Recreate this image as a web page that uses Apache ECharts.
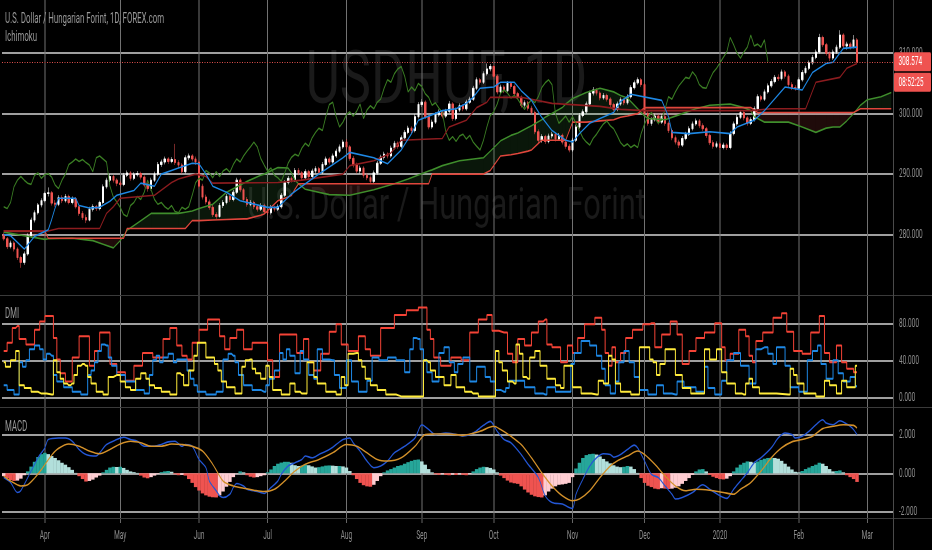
<!DOCTYPE html>
<html>
<head>
<meta charset="utf-8">
<title>USDHUF 1D</title>
<script src="https://cdn.jsdelivr.net/npm/echarts@6/dist/echarts.min.js"></script>
<style>
  html, body { margin: 0; padding: 0; background: #000; width: 932px; height: 550px; overflow: hidden; }
  /* drawn twice as wide, then squeezed, like the original screenshot */
  #chart { width: 1864px; height: 550px; transform: scaleX(0.5); transform-origin: 0 0; }
</style>
</head>
<body>
<div id="chart"></div>
<script>
// ---- bars (weekdays from 14 Mar 2019), prices ----
const opens = [
  280.0, 279.3, 278.0, 278.6, 277.6, 276.2, 275.4, 276.8, 279.8, 282.4,
  283.6, 284.9, 285.6, 286.8, 286.9, 285.2, 285.0, 286.1, 285.6, 286.3,
  285.3, 285.9, 284.6, 283.5, 282.8, 282.4, 284.2, 284.6, 284.3, 285.3,
  287.9, 289.0, 289.6, 289.0, 288.5, 288.3, 289.8, 290.2, 289.3, 289.9,
  290.1, 289.5, 288.2, 287.6, 289.0, 290.0, 291.6, 292.0, 292.5, 292.1,
  292.4, 291.9, 291.5, 290.4, 292.7, 293.0, 292.5, 292.0, 288.0, 286.2,
  285.4, 284.5, 283.3, 283.0, 284.8, 285.3, 286.3, 285.8, 287.0, 289.0,
  287.4, 285.8, 285.0, 285.3, 284.6, 284.2, 284.8, 283.8, 283.6, 284.5,
  284.2, 284.6, 286.5, 288.6, 289.3, 289.0, 290.6, 290.2, 289.4, 290.4,
  289.6, 290.5, 290.9, 290.3, 291.6, 292.5, 292.0, 293.0, 293.8, 294.5,
  295.3, 294.5, 292.6, 291.5, 290.5, 291.0, 289.8, 289.4, 288.8, 290.2,
  291.8, 292.8, 293.3, 293.0, 294.3, 295.1, 294.6, 296.0, 296.9, 297.6,
  297.2, 299.5, 301.5, 301.9, 299.5, 297.8, 298.6, 299.8, 300.3, 299.6,
  300.4, 301.6, 299.2, 300.6, 301.3, 300.8, 301.9, 302.4, 304.2, 305.6,
  305.2, 306.6, 307.4, 307.8, 306.2, 303.6, 304.4, 303.8, 305.0, 304.5,
  303.3, 302.7, 301.4, 301.8, 300.9, 300.2, 297.0, 295.6, 296.2, 295.4,
  296.3, 296.6, 295.8, 296.4, 295.3, 294.6, 294.0, 295.6, 297.8, 299.7,
  300.3, 301.6, 303.4, 303.9, 303.4, 302.6, 303.0, 302.4, 301.5, 300.7,
  301.6, 302.3, 301.8, 302.8, 304.3, 305.1, 305.6, 304.8, 300.0, 298.4,
  299.0, 299.6, 298.6, 299.5, 298.4, 297.2, 296.0, 295.3, 294.8, 295.9,
  296.6, 297.5, 298.3, 298.8, 298.0, 297.5, 296.4, 295.2, 294.6, 295.0,
  294.4, 294.8, 294.4, 296.7, 298.3, 299.4, 300.2, 299.3, 298.4, 299.0,
  300.8, 302.8, 302.4, 303.6, 304.6, 305.3, 306.0, 305.8, 306.9, 306.2,
  304.8, 304.3, 304.2, 305.6, 306.8, 307.5, 308.4, 309.3, 310.2, 312.6,
  311.4, 310.0, 309.2, 310.2, 311.0, 313.0, 311.2, 311.5, 311.0, 312.2
];
const closes = [
  279.3, 278.0, 278.6, 277.6, 276.2, 275.4, 276.8, 279.8, 282.4, 283.6,
  284.9, 285.6, 286.8, 286.9, 285.2, 285.0, 286.1, 285.6, 286.3, 285.3,
  285.9, 284.6, 283.5, 282.8, 282.4, 284.2, 284.6, 284.3, 285.3, 287.9,
  289.0, 289.6, 289.0, 288.5, 288.3, 289.8, 290.2, 289.3, 289.9, 290.1,
  289.5, 288.2, 287.6, 289.0, 290.0, 291.6, 292.0, 292.5, 292.1, 292.4,
  291.9, 291.5, 290.4, 292.7, 293.0, 292.5, 292.0, 288.0, 286.2, 285.4,
  284.5, 283.3, 283.0, 284.8, 285.3, 286.3, 285.8, 287.0, 289.0, 287.4,
  285.8, 285.0, 285.3, 284.6, 284.2, 284.8, 283.8, 283.6, 284.5, 284.2,
  284.6, 286.5, 288.6, 289.3, 289.0, 290.6, 290.2, 289.4, 290.4, 289.6,
  290.5, 290.9, 290.3, 291.6, 292.5, 292.0, 293.0, 293.8, 294.5, 295.3,
  294.5, 292.6, 291.5, 290.5, 291.0, 289.8, 289.4, 288.8, 290.2, 291.8,
  292.8, 293.3, 293.0, 294.3, 295.1, 294.6, 296.0, 296.9, 297.6, 297.2,
  299.5, 301.5, 301.9, 299.5, 297.8, 298.6, 299.8, 300.3, 299.6, 300.4,
  301.6, 299.2, 300.6, 301.3, 300.8, 301.9, 302.4, 304.2, 305.6, 305.2,
  306.6, 307.4, 307.8, 306.2, 303.6, 304.4, 303.8, 305.0, 304.5, 303.3,
  302.7, 301.4, 301.8, 300.9, 300.2, 297.0, 295.6, 296.2, 295.4, 296.3,
  296.6, 295.8, 296.4, 295.3, 294.6, 294.0, 295.6, 297.8, 299.7, 300.3,
  301.6, 303.4, 303.9, 303.4, 302.6, 303.0, 302.4, 301.5, 300.7, 301.6,
  302.3, 301.8, 302.8, 304.3, 305.1, 305.6, 304.8, 300.0, 298.4, 299.0,
  299.6, 298.6, 299.5, 298.4, 297.2, 296.0, 295.3, 294.8, 295.9, 296.6,
  297.5, 298.3, 298.8, 298.0, 297.5, 296.4, 295.2, 294.6, 295.0, 294.4,
  294.8, 294.4, 296.7, 298.3, 299.4, 300.2, 299.3, 298.4, 299.0, 300.8,
  302.8, 302.4, 303.6, 304.6, 305.3, 306.0, 305.8, 306.9, 306.2, 304.8,
  304.3, 304.2, 305.6, 306.8, 307.5, 308.4, 309.3, 310.2, 312.6, 311.4,
  310.0, 309.2, 310.2, 311.0, 313.0, 311.2, 311.5, 311.0, 312.2, 308.574
];
const highs = [
  280.4, 279.6, 279.0, 278.9, 277.9, 276.5, 277.2, 280.2, 282.8, 284.0,
  285.2, 286.0, 287.1, 287.8, 287.2, 285.7, 286.5, 286.5, 286.7, 286.6,
  286.3, 286.2, 284.9, 283.9, 283.3, 284.6, 285.0, 284.9, 285.6, 288.3,
  289.4, 290.0, 289.9, 289.3, 288.9, 290.2, 290.6, 290.5, 290.3, 290.5,
  290.4, 289.8, 288.6, 289.4, 290.4, 292.0, 292.4, 292.9, 292.8, 292.8,
  295.0, 292.3, 291.8, 293.1, 293.4, 293.3, 292.9, 292.3, 288.4, 286.6,
  285.8, 284.9, 283.7, 285.2, 285.7, 286.7, 286.6, 287.4, 289.4, 289.3,
  287.7, 286.2, 285.7, 285.6, 285.0, 285.2, 285.1, 284.2, 284.9, 284.8,
  285.0, 286.9, 289.0, 289.7, 289.6, 291.0, 291.0, 290.5, 290.8, 290.7,
  290.9, 291.3, 291.2, 292.0, 292.9, 292.8, 293.4, 294.2, 294.9, 295.7,
  295.8, 294.8, 293.0, 291.9, 291.4, 291.3, 290.2, 289.8, 290.6, 292.2,
  293.2, 293.7, 293.6, 294.7, 295.5, 295.4, 296.4, 297.3, 298.0, 297.9,
  299.9, 301.9, 302.4, 302.2, 299.8, 299.0, 300.2, 300.7, 300.6, 300.8,
  302.1, 301.9, 301.0, 301.7, 301.6, 302.3, 302.8, 304.6, 306.0, 305.9,
  307.0, 308.3, 308.2, 308.1, 306.5, 304.8, 304.7, 305.4, 305.3, 304.8,
  303.6, 303.0, 302.2, 302.1, 301.3, 300.5, 297.4, 296.6, 296.5, 296.7,
  297.0, 296.9, 296.8, 296.7, 295.6, 295.0, 296.0, 298.2, 300.1, 300.7,
  302.0, 303.8, 304.4, 304.2, 303.7, 303.4, 303.3, 302.7, 301.8, 302.0,
  302.7, 302.6, 303.2, 304.7, 305.5, 306.0, 305.9, 305.1, 300.4, 299.4,
  300.0, 299.9, 299.9, 299.8, 298.7, 297.5, 296.4, 295.7, 296.3, 297.0,
  297.9, 298.7, 299.2, 299.1, 298.4, 297.8, 296.7, 295.6, 295.4, 295.3,
  295.2, 295.1, 297.1, 298.7, 299.8, 300.6, 300.5, 299.6, 299.4, 301.2,
  303.2, 303.1, 304.0, 305.0, 305.7, 306.4, 306.5, 307.3, 307.2, 306.5,
  305.2, 304.7, 306.0, 307.2, 307.9, 308.8, 309.7, 310.6, 313.2, 312.9,
  311.7, 310.3, 310.6, 311.4, 313.8, 313.3, 311.9, 311.8, 313.0, 312.5
];
const lows = [
  279.0, 277.6, 277.7, 277.2, 275.8, 274.5, 275.0, 276.5, 279.5, 282.0,
  283.3, 284.5, 285.3, 286.3, 284.8, 284.6, 284.7, 285.2, 285.3, 285.0,
  285.0, 284.3, 283.1, 282.4, 281.9, 282.2, 283.8, 283.9, 284.0, 285.0,
  287.6, 288.7, 288.6, 288.0, 287.9, 288.0, 289.5, 288.9, 289.0, 289.6,
  289.1, 287.8, 287.1, 287.3, 288.7, 289.7, 291.2, 291.6, 291.7, 291.8,
  291.5, 291.0, 290.0, 290.1, 292.3, 292.1, 291.5, 287.6, 285.8, 285.0,
  284.1, 282.9, 282.6, 282.8, 284.4, 285.0, 285.4, 285.5, 286.7, 287.0,
  285.4, 284.6, 284.7, 284.2, 283.8, 283.9, 283.4, 283.2, 283.3, 283.8,
  283.9, 284.3, 286.2, 288.3, 288.6, 288.7, 289.8, 289.0, 289.1, 289.2,
  289.3, 290.1, 289.9, 290.0, 291.3, 291.6, 291.7, 292.7, 293.5, 294.2,
  294.1, 292.2, 291.1, 290.1, 290.1, 289.4, 289.0, 288.4, 288.5, 289.9,
  291.5, 292.4, 292.6, 292.7, 294.0, 294.2, 294.3, 295.7, 296.6, 296.8,
  296.9, 299.2, 301.1, 299.1, 297.4, 297.5, 298.3, 299.5, 299.2, 299.3,
  300.1, 298.8, 298.9, 300.3, 300.4, 300.5, 301.6, 302.1, 303.9, 304.8,
  304.9, 306.3, 307.0, 305.8, 303.2, 303.3, 303.4, 303.5, 304.1, 302.9,
  302.3, 301.0, 301.0, 300.5, 299.8, 296.6, 295.2, 295.2, 295.0, 295.1,
  295.9, 295.4, 295.5, 294.9, 294.2, 293.6, 293.7, 295.3, 297.5, 299.4,
  300.0, 301.3, 303.0, 303.0, 302.2, 302.3, 302.0, 301.1, 300.3, 300.4,
  301.3, 301.4, 301.5, 302.5, 304.0, 304.8, 304.4, 299.6, 298.0, 298.0,
  298.7, 298.2, 298.3, 298.0, 296.8, 295.6, 294.9, 294.3, 294.5, 295.6,
  296.3, 297.2, 298.0, 297.6, 297.1, 296.0, 294.8, 294.2, 294.3, 294.0,
  294.1, 294.0, 294.1, 296.4, 298.0, 299.1, 298.9, 298.0, 298.1, 298.7,
  300.5, 302.0, 302.1, 303.3, 304.3, 305.0, 305.4, 305.5, 305.8, 304.4,
  303.9, 303.8, 303.9, 305.3, 306.5, 307.2, 308.1, 309.0, 309.9, 311.0,
  309.6, 308.7, 308.9, 309.9, 310.7, 310.8, 310.6, 310.6, 310.8, 308.3
];

// ---- Ichimoku lines, [bar, value] read where the line turns ----
const tenkan = [
  [0,280.0],[2,279.8],[6,277.6],[9,279.7],[13,280.8],[14,282.5],[15,284.4],[16,286.0],[21,286.0],[22,284.8],
  [25,284.4],[28,284.5],[31,285.5],[33,286.5],[38,287.3],[40,288.5],[44,288.0],[46,290.0],[51,291.0],[55,291.8],
  [57,291.7],[59,290.0],[61,288.0],[65,287.0],[69,285.6],[77,284.5],[80,284.5],[84,286.7],[87,288.0],[92,290.0],
  [99,292.7],[101,293.6],[108,292.7],[112,291.7],[116,294.0],[119,296.7],[121,298.9],[128,300.5],[132,300.8],[135,301.7],
  [137,302.7],[139,304.2],[143,304.4],[145,305.2],[149,305.2],[151,303.8],[154,302.2],[157,299.4],[160,297.2],[164,295.6],
  [166,295.3],[168,296.7],[171,298.4],[174,299.2],[178,300.2],[180,302.0],[183,303.2],[192,302.2],[194,299.5],[195,296.9],
  [200,296.7],[206,297.0],[212,296.7],[214,297.8],[219,298.9],[222,300.5],[228,304.4],[233,303.9],[236,306.8],[240,308.3],
  [242,308.5],[245,310.8],[249,311.0]
];
const kijun = [
  [0,280.6],[13,280.6],[16,281.0],[28,281.0],[30,283.5],[32,284.6],[34,286.0],[44,286.5],[49,288.6],[51,289.2],
  [56,290.0],[59,289.6],[61,288.5],[80,288.6],[87,289.0],[99,290.0],[101,291.4],[108,292.2],[113,293.5],[116,295.6],
  [128,295.9],[130,297.8],[135,298.9],[138,301.0],[141,301.9],[142,302.7],[151,302.7],[160,301.7],[174,301.2],[180,300.7],
  [187,300.5],[218,300.5],[224,300.8],[234,300.8],[237,305.2],[244,306.0],[246,307.5],[249,308.3]
];
// leading spans read at the same bars so the cloud can be filled between them
const cloudBars = [
  0, 6, 12, 13, 20, 26, 29, 32, 34, 35,
  36, 40, 43, 51, 53, 55, 57, 61, 65, 70,
  71, 75, 76, 80, 83, 84, 85, 86, 88, 95,
  101, 108, 114, 118, 124, 125, 128, 133, 140, 142,
  145, 148, 150, 153, 154, 157, 158, 163, 164, 166,
  170, 174, 178, 180, 182, 185, 187, 188, 193, 197,
  202, 206, 212, 216, 218, 219, 220, 222, 229, 233,
  237, 240, 242, 244, 246, 248, 250, 252, 256, 259
];
const spanA = [
  280.4, 279.8, 279.2, 279.3, 279.4, 279.0, 278.4, 277.8, 279.0, 279.8,
  280.7, 282.3, 283.5, 283.5, 283.7, 283.9, 284.3, 285.0, 287.0, 288.5,
  288.8, 289.8, 290.0, 291.1, 291.0, 290.2, 289.0, 288.4, 287.5, 286.6,
  286.5, 287.4, 288.4, 289.2, 290.5, 290.7, 291.4, 292.2, 292.7, 293.8,
  295.5, 296.4, 296.8, 297.7, 298.0, 299.0, 299.4, 301.0, 301.6, 302.5,
  303.5, 304.2, 303.6, 303.0, 302.6, 300.8, 299.6, 299.2, 299.0, 299.8,
  300.8, 301.4, 301.6, 301.0, 300.5, 299.5, 299.2, 298.6, 298.6, 297.8,
  296.9, 297.6, 297.8, 297.8, 298.8, 300.0, 301.4, 302.3, 302.8, 303.5
];
const spanB = [
  280.6, 280.6, 280.6, 279.4, 279.4, 279.4, 279.4, 279.4, 279.4, 279.4,
  281.0, 281.0, 281.0, 281.0, 281.0, 282.3, 282.3, 282.4, 282.5, 282.6,
  282.6, 283.2, 283.4, 285.6, 286.2, 286.5, 287.5, 288.4, 288.4, 288.4,
  288.4, 288.4, 288.4, 288.4, 288.4, 290.0, 290.0, 290.0, 290.0, 290.6,
  293.0, 293.2, 293.4, 293.8, 294.0, 295.6, 295.6, 295.6, 295.6, 298.6,
  298.6, 298.8, 299.0, 299.4, 299.6, 300.0, 301.0, 301.0, 301.0, 301.0,
  301.0, 301.0, 301.0, 301.0, 301.0, 300.6, 300.2, 300.2, 300.2, 300.2,
  300.2, 300.2, 300.2, 300.2, 300.2, 300.2, 300.8, 300.8, 300.8, 300.8
];
const LAG = 26;

// ---- DMI, [bar, value] ----
const dmiRed = [
  [0,50],[2,59],[3,75],[4,77],[5,63],[8,57],[10,73],[11,82],[13,88],[14,88],
  [15,64],[16,41],[17,26],[19,17],[21,43],[23,66],[24,66],[26,34],[27,50],[29,70],
  [30,70],[32,36],[34,27],[37,18],[39,34],[42,48],[45,43],[48,63],[49,75],[50,75],
  [51,56],[53,45],[54,41],[56,59],[58,73],[61,84],[62,84],[64,66],[65,52],[67,64],
  [69,73],[71,52],[74,59],[76,59],[78,40],[79,22],[82,68],[84,68],[87,48],[88,63],
  [90,38],[91,29],[94,47],[96,71],[98,79],[99,57],[102,50],[105,66],[106,52],[108,45],
  [112,75],[116,89],[119,94],[123,97],[124,73],[125,63],[126,43],[129,34],[132,43],[135,40],
  [137,70],[140,84],[142,89],[143,72],[146,70],[148,47],[149,38],[151,63],[153,56],[155,70],
  [157,82],[158,84],[159,57],[161,54],[164,38],[165,56],[167,48],[168,64],[171,79],[174,86],
  [175,73],[176,48],[177,34],[178,54],[179,38],[181,48],[182,64],[185,73],[188,79],[189,80],
  [191,54],[193,68],[196,82],[197,68],[199,36],[201,50],[203,64],[206,70],[209,80],[210,54],
  [211,40],[213,47],[216,73],[217,66],[218,45],[219,38],[220,61],[223,70],[226,86],[228,91],
  [229,71],[232,50],[234,47],[237,70],[239,88],[240,48],[242,38],[244,56],[245,38],[247,31],
  [249,27]
];
const dmiBlue = [
  [0,13],[2,8],[4,3],[5,38],[6,33],[7,40],[8,52],[10,56],[11,52],[12,41],
  [13,47],[14,45],[15,24],[16,17],[19,11],[21,6],[24,3],[25,24],[26,29],[27,38],
  [28,50],[29,57],[30,56],[31,43],[32,34],[34,24],[37,17],[40,8],[42,4],[43,24],
  [44,40],[45,45],[46,38],[47,43],[49,47],[50,38],[51,41],[53,41],[54,29],[55,20],
  [56,13],[57,6],[61,3],[63,6],[65,41],[66,47],[67,45],[68,38],[69,24],[71,13],
  [74,8],[76,6],[77,13],[78,20],[80,29],[81,48],[82,41],[83,52],[84,45],[86,26],
  [87,50],[88,41],[90,24],[91,20],[92,52],[94,41],[96,40],[97,24],[99,10],[101,40],
  [102,17],[105,6],[107,18],[108,43],[111,40],[113,43],[116,40],[118,27],[119,52],[120,64],
  [121,63],[122,52],[123,40],[124,27],[126,17],[128,48],[129,54],[131,38],[132,27],[133,36],
  [135,43],[137,17],[139,33],[140,33],[141,22],[143,17],[144,8],[146,6],[147,10],[148,18],
  [151,18],[153,11],[157,4],[158,3],[159,11],[163,6],[165,6],[166,36],[167,48],[170,61],
  [172,56],[174,45],[175,31],[176,13],[178,4],[179,17],[180,38],[182,50],[183,38],[185,22],
  [186,8],[190,3],[191,13],[194,4],[196,3],[197,17],[200,11],[204,6],[205,33],[206,10],
  [209,3],[210,18],[212,40],[214,48],[216,34],[219,15],[220,52],[222,54],[224,47],[225,36],
  [226,54],[227,54],[229,34],[230,11],[234,6],[235,40],[237,50],[238,56],[239,36],[241,20],
  [243,40],[244,26],[246,17],[248,22],[249,12]
];
const dmiYellow = [
  [0,38],[1,33],[3,40],[4,50],[5,13],[7,10],[9,6],[11,4],[14,3],[15,40],
  [16,27],[17,20],[18,15],[19,13],[20,15],[21,24],[22,34],[23,36],[24,34],[25,22],
  [26,15],[28,6],[30,3],[31,22],[33,24],[35,17],[36,11],[38,8],[39,20],[41,26],
  [42,20],[43,13],[45,10],[47,6],[50,3],[51,26],[52,24],[53,13],[55,29],[56,45],
  [57,59],[58,59],[60,43],[61,43],[62,36],[63,29],[64,17],[66,11],[69,4],[70,33],
  [71,40],[72,41],[73,31],[74,26],[76,20],[77,34],[78,22],[79,8],[83,3],[84,15],
  [86,6],[87,4],[90,38],[91,22],[92,15],[96,6],[98,3],[99,22],[100,13],[101,47],
  [103,48],[104,40],[105,33],[106,20],[108,13],[110,8],[113,3],[116,1],[122,1],[123,40],
  [124,38],[125,29],[127,22],[130,13],[131,24],[133,11],[136,6],[137,4],[140,1],[143,1],
  [144,50],[145,38],[146,29],[148,17],[149,15],[150,57],[151,47],[152,22],[153,20],[154,43],
  [156,50],[157,34],[160,20],[162,13],[163,10],[164,34],[165,34],[167,11],[170,4],[173,3],
  [174,18],[176,15],[177,45],[178,41],[179,15],[181,6],[185,3],[186,54],[188,54],[189,41],
  [190,38],[191,24],[192,36],[194,52],[195,52],[197,24],[199,10],[202,4],[204,4],[205,52],
  [207,41],[209,52],[210,27],[212,15],[215,4],[216,3],[217,15],[218,20],[219,11],[222,4],
  [229,3],[230,31],[231,24],[232,15],[235,4],[239,1],[240,18],[242,13],[244,4],[245,18],
  [247,11],[248,11],[249,34]
];

// ---- MACD ----
const macdLine = [
  [0,-0.22],[2,-0.48],[4,-1.0],[5,-0.9],[8,0.12],[10,0.81],[12,1.33],[13,1.76],[16,1.84],[18,1.84],
  [20,1.67],[22,1.24],[24,0.98],[27,0.9],[28,1.07],[30,1.5],[33,1.76],[35,1.88],[37,1.76],[39,1.67],
  [41,1.41],[44,1.41],[46,1.5],[48,1.64],[50,1.67],[52,1.41],[53,1.5],[55,1.41],[57,0.72],[59,0.29],
  [60,-0.4],[62,-0.91],[63,-1.17],[64,-1.26],[66,-1.09],[67,-0.74],[68,-0.53],[70,-0.66],[71,-0.83],[74,-0.95],
  [76,-1.05],[78,-0.74],[80,-0.4],[81,-0.05],[83,0.38],[85,0.55],[87,0.72],[88,0.9],[90,0.81],[92,0.98],
  [95,1.24],[97,1.5],[99,1.76],[101,1.84],[102,1.59],[104,1.16],[106,0.64],[108,0.29],[110,0.38],[112,0.64],
  [114,1.07],[117,1.41],[120,1.84],[122,2.53],[124,2.28],[126,2.02],[129,2.1],[132,2.02],[134,1.95],[137,2.1],
  [140,2.5],[142,2.71],[144,2.19],[146,1.76],[148,1.59],[151,0.98],[153,0.47],[156,-0.22],[158,-1.17],[160,-1.52],
  [163,-1.6],[165,-1.78],[166,-1.83],[167,-1.09],[169,-0.31],[171,0.38],[173,0.81],[175,1.02],[177,0.98],[178,0.84],
  [180,0.98],[182,1.24],[184,1.47],[185,1.33],[187,0.64],[189,-0.05],[191,-0.22],[193,-0.66],[195,-1.09],[196,-1.34],
  [198,-1.26],[201,-1.0],[204,-0.6],[206,-0.83],[209,-1.17],[211,-1.31],[213,-0.83],[215,-0.4],[217,0.03],[219,0.55],
  [221,0.81],[224,1.33],[226,1.84],[228,2.1],[230,2.02],[231,1.84],[233,1.93],[235,2.19],[237,2.53],[239,2.79],
  [240,2.62],[242,2.53],[244,2.74],[246,2.57],[247,2.45],[248,2.28],[249,2.02]
];
const signalLine = [
  [0,-0.14],[2,-0.4],[5,-0.66],[7,-0.6],[9,-0.25],[11,0.2],[14,0.95],[16,1.3],[19,1.53],[22,1.41],
  [25,1.16],[28,1.02],[31,1.24],[34,1.53],[37,1.67],[40,1.59],[43,1.41],[46,1.41],[49,1.53],[52,1.5],
  [55,1.41],[58,1.16],[61,0.47],[64,-0.4],[67,-0.66],[70,-0.78],[73,-0.88],[76,-0.95],[79,-0.83],[82,-0.4],
  [85,0.12],[88,0.47],[92,0.72],[96,1.07],[100,1.5],[103,1.41],[106,1.07],[109,0.72],[112,0.64],[116,0.81],
  [120,1.41],[123,2.02],[125,2.05],[130,2.05],[134,1.98],[139,2.19],[143,2.45],[145,2.28],[148,1.93],[151,1.5],
  [154,0.81],[157,0.03],[160,-0.66],[163,-1.17],[166,-1.43],[168,-1.34],[171,-0.91],[174,-0.22],[177,0.38],[179,0.64],
  [182,0.9],[185,1.16],[187,0.98],[190,0.47],[193,-0.14],[196,-0.66],[199,-0.91],[202,-0.83],[206,-0.88],[210,-1.0],
  [213,-1.09],[215,-0.83],[218,-0.48],[221,0.12],[224,0.81],[227,1.33],[230,1.64],[233,1.76],[236,1.93],[239,2.33],
  [242,2.45],[245,2.53],[248,2.5],[249,2.36]
];
const histogram = [
  -0.15, -0.25, -0.35, -0.40, -0.38, -0.28, -0.10, 0.10, 0.35, 0.60,
  0.85, 1.00, 1.07, 1.00, 0.90, 0.80, 0.68, 0.55, 0.45, 0.32,
  0.18, 0.02, -0.15, -0.30, -0.43, -0.40, -0.33, -0.22, -0.12, 0.05,
  0.18, 0.30, 0.34, 0.33, 0.34, 0.28, 0.18, 0.10, 0.06, 0.02,
  -0.12, -0.22, -0.26, -0.20, -0.12, -0.04, 0.06, 0.10, 0.12, 0.08,
  -0.05, -0.10, -0.08, -0.12, -0.30, -0.50, -0.72, -0.90, -1.05, -1.15,
  -1.22, -1.25, -1.26, -1.15, -0.95, -0.70, -0.45, -0.20, -0.02, 0.10,
  0.05, -0.10, -0.18, -0.22, -0.20, -0.15, -0.10, 0.05, 0.20, 0.38,
  0.50, 0.56, 0.60, 0.60, 0.55, 0.42, 0.38, 0.40, 0.45, 0.42,
  0.36, 0.30, 0.32, 0.36, 0.40, 0.41, 0.40, 0.38, 0.38, 0.36,
  0.30, 0.12, -0.10, -0.30, -0.50, -0.62, -0.68, -0.70, -0.60, -0.40,
  -0.15, 0.05, 0.15, 0.22, 0.30, 0.38, 0.42, 0.50, 0.58, 0.65,
  0.70, 0.72, 0.62, 0.45, 0.22, 0.05, -0.05, -0.08, -0.04, -0.08,
  -0.10, -0.06, -0.09, -0.05, -0.08, -0.10, -0.04, 0.10, 0.22, 0.30,
  0.34, 0.32, 0.28, 0.20, 0.05, -0.12, -0.25, -0.38, -0.48, -0.52,
  -0.55, -0.68, -0.85, -1.00, -1.12, -1.20, -1.24, -1.26, -1.15, -0.95,
  -0.80, -0.68, -0.60, -0.58, -0.55, -0.50, -0.20, 0.25, 0.55, 0.80,
  0.95, 1.00, 1.02, 0.98, 0.88, 0.75, 0.62, 0.52, 0.42, 0.35,
  0.32, 0.34, 0.38, 0.35, 0.22, 0.02, -0.25, -0.50, -0.65, -0.72,
  -0.80, -0.83, -0.78, -0.80, -0.82, -0.80, -0.75, -0.68, -0.55, -0.40,
  -0.25, -0.08, 0.10, 0.20, 0.22, 0.10, -0.08, -0.18, -0.25, -0.30,
  -0.32, -0.28, -0.15, 0.10, 0.30, 0.45, 0.55, 0.62, 0.60, 0.55,
  0.62, 0.70, 0.76, 0.80, 0.81, 0.80, 0.76, 0.65, 0.50, 0.35,
  0.20, 0.08, 0.05, 0.12, 0.22, 0.30, 0.38, 0.45, 0.55, 0.50,
  0.38, 0.22, 0.10, 0.12, 0.15, 0.05, -0.10, -0.20, -0.30, -0.45
];

// ---- time scale ----
const BAR_COUNT = 260;                       // bars plus room for the cloud ahead
const monthStarts = [12, 34, 57, 77, 100, 122, 143, 166, 187, 209, 232, 252];
const monthLabels = ['Apr', 'May', 'Jun', 'Jul', 'Aug', 'Sep', 'Oct', 'Nov', 'Dec', '2020', 'Feb', 'Mar'];
const countdown = '08:52:25';

const W = 1864;
const AXIS_W = 78;
const PLOT_RIGHT = W - AXIS_W;
const FONT = 'Roboto, "Noto Sans", sans-serif';
const TEXT_GRAY = '#8e8e8e';

const bars = Array.from({ length: BAR_COUNT }, (_, i) => i);

function isMonthStart(index) {
    return monthStarts.indexOf(index) >= 0;
}

function xAxisFor(gridIndex, withLabels) {
    return {
        type: 'category',
        gridIndex: gridIndex,
        data: bars,
        boundaryGap: true,
        axisLine: { show: false },
        axisTick: withLabels ? {
            show: true, alignWithLabel: true, length: 5,
            interval: isMonthStart, lineStyle: { color: '#666', width: 2 }
        } : { show: false },
        axisLabel: withLabels ? {
            show: true, interval: isMonthStart, margin: 11,
            color: TEXT_GRAY, fontSize: 13, fontFamily: FONT,
            formatter: (v) => monthLabels[monthStarts.indexOf(Number(v))] || ''
        } : { show: false },
        splitLine: withLabels ? {
            show: true, interval: isMonthStart, alignWithLabel: true,
            lineStyle: { color: '#727272', width: 2 }
        } : { show: false }
    };
}

function yAxisFor(gridIndex, min, max, step, shown) {
    return {
        type: 'value',
        gridIndex: gridIndex,
        position: 'right',
        min: min,
        max: max,
        interval: step,
        axisLine: { show: false },
        axisTick: { show: false },
        axisLabel: {
            margin: 12, color: TEXT_GRAY, fontSize: 13, fontFamily: FONT,
            formatter: (v) => shown.some(s => Math.abs(s - v) < 1e-6) ? v.toFixed(3) : ''
        },
        splitLine: {
            show: true, showMinLine: false, showMaxLine: false,
            lineStyle: { color: '#d4d4d4', width: 1.5 }
        }
    };
}

function line(name, data, color, axisIndex, extra) {
    return Object.assign({
        name: name,
        type: 'line',
        xAxisIndex: axisIndex,
        yAxisIndex: axisIndex,
        data: data,
        symbol: 'none',
        silent: true,
        lineStyle: { color: color, width: 1.6 },
        itemStyle: { color: color },
        z: 4
    }, extra || {});
}

// fill between the two leading spans, green where A is on top, red where B is
function renderCloud(params, api) {
    const k = params.dataIndex;
    if (k >= cloudBars.length - 1) return null;
    const up = 'rgba(76,175,80,0.13)';
    const down = 'rgba(239,83,80,0.13)';
    const a0 = api.coord([cloudBars[k], spanA[k]]);
    const a1 = api.coord([cloudBars[k + 1], spanA[k + 1]]);
    const b0 = api.coord([cloudBars[k], spanB[k]]);
    const b1 = api.coord([cloudBars[k + 1], spanB[k + 1]]);
    const d0 = spanA[k] - spanB[k];
    const d1 = spanA[k + 1] - spanB[k + 1];
    const poly = (pts, fill) => ({ type: 'polygon', shape: { points: pts }, style: { fill: fill } });
    const children = [];
    if (d0 * d1 >= 0) {
        children.push(poly([a0, a1, b1, b0], (d0 + d1) >= 0 ? up : down));
    } else {
        const t = d0 / (d0 - d1);
        const c = [a0[0] + t * (a1[0] - a0[0]), a0[1] + t * (a1[1] - a0[1])];
        children.push(poly([a0, c, b0], d0 > 0 ? up : down));
        children.push(poly([c, a1, b1], d1 > 0 ? up : down));
    }
    return { type: 'group', children: children };
}

function histColor(params) {
    const i = params.dataIndex;
    const v = histogram[i];
    const prev = i > 0 ? histogram[i - 1] : v;
    if (v >= 0) return v >= prev ? '#26a69a' : '#b2dfdb';
    return v < prev ? '#ef5350' : '#ffcdd2';
}

function staticGraphics() {
    const sep = { stroke: '#3a3a3a', lineWidth: 1 };
    const label = (id, text, y) => ({
        type: 'text', id: id, x: 10, y: y, scaleX: 1.12, silent: true, z: 30,
        style: { text: text, fill: '#9a9a9a', font: '14px ' + FONT, verticalAlign: 'middle', textVerticalAlign: 'middle' }
    });
    const mark = (id, text, y, size) => ({
        type: 'text', id: id, x: PLOT_RIGHT / 2, y: y, scaleX: 1.4, silent: true, z: -5,
        style: {
            text: text, fill: '#1a1a1a', font: size + 'px ' + FONT,
            align: 'center', textAlign: 'center', verticalAlign: 'middle', textVerticalAlign: 'middle'
        }
    });
    return [
        mark('wm1', 'USDHUF, 1D', 84, 75),
        mark('wm2', 'U.S. Dollar / Hungarian Forint', 208, 44),
        { type: 'line', id: 'sep1', silent: true, z: 20, shape: { x1: 0, y1: 295.5, x2: W, y2: 295.5 }, style: sep },
        { type: 'line', id: 'sep2', silent: true, z: 20, shape: { x1: 0, y1: 407.5, x2: W, y2: 407.5 }, style: sep },
        { type: 'line', id: 'sep3', silent: true, z: 20, shape: { x1: 0, y1: 518.5, x2: W, y2: 518.5 }, style: sep },
        { type: 'line', id: 'sepv', silent: true, z: 20, shape: { x1: PLOT_RIGHT + 1, y1: 0, x2: PLOT_RIGHT + 1, y2: 550 },
          style: { stroke: '#4a4a4a', lineWidth: 2 } },
        label('title', 'U.S. Dollar / Hungarian Forint, 1D, FOREX.com', 19),
        label('ichimoku', 'Ichimoku', 37),
        label('dmi', 'DMI', 314),
        label('macd', 'MACD', 427)
    ];
}

function initChart() {
    if (typeof echarts === 'undefined') {
        console.error('ECharts is not loaded');
        return;
    }
    const chart = echarts.init(document.getElementById('chart'));
    const candles = closes.map((c, i) => [opens[i], c, lows[i], highs[i]]);
    const lagging = closes.map((c, i) => [i - LAG, c]).filter(p => p[0] >= 0);
    const lastClose = closes[closes.length - 1];

    const option = {
        backgroundColor: '#000000',
        animation: false,
        grid: [
            { left: 4, right: AXIS_W, top: 0, height: 295 },          // price
            { left: 4, right: AXIS_W, top: 286.3, height: 148 },      // DMI, -40..120
            { left: 4, right: AXIS_W, top: 396.6, height: 154.8 },    // MACD, -4..4
            { left: 4, right: AXIS_W, top: 0, height: 518 }           // time scale
        ],
        xAxis: [xAxisFor(0, false), xAxisFor(1, false), xAxisFor(2, false), xAxisFor(3, true)],
        yAxis: [
            yAxisFor(0, 270, 318.8, 10, [280, 290, 300, 310]),
            yAxisFor(1, -40, 120, 40, [0, 40, 80]),
            yAxisFor(2, -4, 4, 2, [-2, 0, 2]),
            { type: 'value', gridIndex: 3, show: false }
        ],
        graphic: { elements: staticGraphics() },
        series: [
            {
                name: 'Cloud',
                type: 'custom',
                xAxisIndex: 0,
                yAxisIndex: 0,
                renderItem: renderCloud,
                data: cloudBars.map((b, k) => [b, spanA[k], spanB[k]]),
                encode: { x: 0, y: [1, 2] },
                silent: true,
                z: 1
            },
            {
                name: 'USDHUF',
                type: 'candlestick',
                xAxisIndex: 0,
                yAxisIndex: 0,
                data: candles,
                barWidth: '58%',
                silent: true,
                z: 3,
                itemStyle: {
                    color: '#ffffff',
                    color0: '#ef5350',
                    borderColor: '#ffffff',
                    borderColor0: '#ef5350',
                    borderWidth: 1
                },
                markLine: {
                    symbol: ['none', 'none'],
                    silent: true,
                    label: { show: false },
                    lineStyle: { color: '#e0504c', type: [2, 3], width: 1 },
                    data: [{ yAxis: lastClose }]
                }
            },
            line('Lead 1', cloudBars.map((b, k) => [b, spanA[k]]), '#3f8e2c', 0),
            line('Lead 2', cloudBars.map((b, k) => [b, spanB[k]]), '#e0463c', 0),
            line('Lagging Span', lagging, '#3b7f24', 0),
            line('Base Line', kijun, '#8c1c1f', 0),
            line('Conversion Line', tenkan, '#1e88e5', 0),

            line('ADX', dmiRed, '#f44336', 1, { step: 'middle', lineStyle: { color: '#f44336', width: 2 } }),
            line('+DI', dmiBlue, '#1e88e5', 1, { step: 'middle', lineStyle: { color: '#1e88e5', width: 2 } }),
            line('-DI', dmiYellow, '#ffeb3b', 1, { step: 'middle', lineStyle: { color: '#ffeb3b', width: 2 } }),

            {
                name: 'Histogram',
                type: 'bar',
                xAxisIndex: 2,
                yAxisIndex: 2,
                data: histogram,
                barWidth: 7,
                silent: true,
                itemStyle: { color: histColor },
                z: 2
            },
            line('MACD', macdLine, '#2457d6', 2, { smooth: 0.3 }),
            line('Signal', signalLine, '#d4912a', 2, { smooth: 0.3 })
        ]
    };

    chart.setOption(option);

    // last price and countdown tags on the price scale
    const py = chart.convertToPixel({ yAxisIndex: 0 }, lastClose);
    const tag = (id, y, text) => [
        { type: 'rect', id: id + 'Box', silent: true, z: 40,
          shape: { x: PLOT_RIGHT + 2, y: y - 9.5, width: AXIS_W - 4, height: 19, r: 2 },
          style: { fill: '#ef5350' } },
        { type: 'text', id: id + 'Text', silent: true, z: 41, x: PLOT_RIGHT + 11, y: y,
          style: { text: text, fill: '#ffffff', font: '13px ' + FONT, verticalAlign: 'middle', textVerticalAlign: 'middle' } }
    ];
    chart.setOption({
        graphic: { elements: tag('price', py, lastClose.toFixed(3)).concat(tag('timer', py + 20.5, countdown)) }
    });
}

initChart();
</script>
</body>
</html>
